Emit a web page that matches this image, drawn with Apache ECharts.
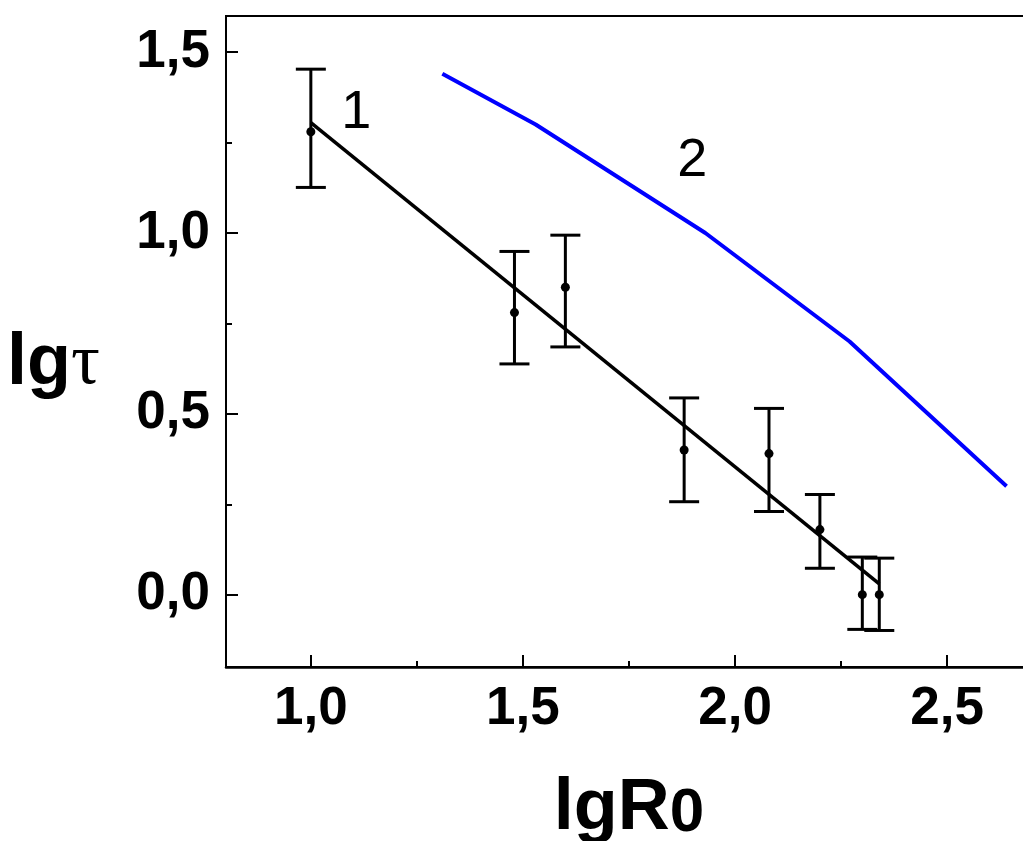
<!DOCTYPE html>
<html>
<head>
<meta charset="utf-8">
<title>lgτ vs lgR0</title>
<script src="https://cdn.jsdelivr.net/npm/echarts@6/dist/echarts.min.js"></script>
<style>
  html, body { margin: 0; padding: 0; background: #fff; }
  #chart { width: 1023px; height: 841px; }
</style>
</head>
<body>
<div id="chart"></div>
<script>
// Measured points (curve 1) with error bars
const lgR0 = [1.00, 1.48, 1.60, 1.88, 2.08, 2.20, 2.30, 2.34];
const lgTau = [1.28, 0.78, 0.85, 0.40, 0.39, 0.18, 0.00, 0.00];
const errHigh = [1.453, 0.949, 0.994, 0.544, 0.515, 0.277, 0.104, 0.101];
const errLow = [1.126, 0.638, 0.685, 0.257, 0.230, 0.073, -0.096, -0.099];

// Linear fit through curve 1
const fitX = [1.00, 2.34];
const fitY = [1.305, 0.03];

// Curve 2
const curve2X = [1.31, 1.53, 1.93, 2.27, 2.64];
const curve2Y = [1.44, 1.30, 1.00, 0.70, 0.30];

// Curve labels
const curveLabels = ['1', '2'];
const curveLabelX = [1.107, 1.899];
const curveLabelY = [1.332, 1.200];

// Axis ticks
const xTicks = [1.0, 1.5, 2.0, 2.5];
const xMinorTicks = [1.25, 1.75, 2.25, 2.75];
const yTicks = [0.0, 0.5, 1.0, 1.5];
const yMinorTicks = [0.25, 0.75, 1.25];

const fmt = v => Number(v).toFixed(1).replace('.', ',');
const sans = 'Liberation Sans, Arial, sans-serif';
const tickFont = { fontFamily: sans, fontWeight: 'bold', fontSize: 53, color: '#000' };

const chart = echarts.init(document.getElementById('chart'), null, { renderer: 'canvas' });

const errData = lgR0.map((x, i) => [x, errLow[i], errHigh[i]]);

chart.setOption({
  animation: false,
  backgroundColor: '#fff',
  grid: {
    left: 226, top: 16, right: -9, bottom: 174,
    outerBoundsMode: 'none',
    containLabel: false,
    show: true, borderColor: '#000', borderWidth: 2, backgroundColor: 'transparent'
  },
  xAxis: [
    {
      type: 'value', min: 0.8, max: 2.7, position: 'bottom',
      axisLine: { show: true, onZero: false, lineStyle: { color: '#000', width: 2.5 } },
      axisTick: { show: true, inside: true, length: 12, customValues: xTicks, lineStyle: { color: '#000', width: 2 } },
      axisLabel: { show: true, margin: 16, customValues: xTicks, formatter: fmt, ...tickFont },
      splitLine: { show: false },
      name: '{a|lgR}{b|0}',
      nameLocation: 'middle',
      nameGap: 98,
      nameTextStyle: {
        rich: {
          a: { fontFamily: sans, fontWeight: 'bold', fontSize: 72, lineHeight: 80, color: '#000', verticalAlign: 'bottom' },
          b: { fontFamily: sans, fontWeight: 'bold', fontSize: 62, lineHeight: 80, color: '#000', verticalAlign: 'bottom' }
        }
      }
    },
    {
      type: 'value', min: 0.8, max: 2.7, position: 'bottom',
      axisLine: { show: false, onZero: false },
      axisTick: { show: true, inside: true, length: 6, customValues: xMinorTicks, lineStyle: { color: '#000', width: 2 } },
      axisLabel: { show: false },
      splitLine: { show: false }
    }
  ],
  yAxis: [
    {
      type: 'value', min: -0.2, max: 1.6, position: 'left',
      axisLine: { show: true, onZero: false, lineStyle: { color: '#000', width: 2 } },
      axisTick: { show: true, inside: true, length: 12, customValues: yTicks, lineStyle: { color: '#000', width: 2 } },
      axisLabel: { show: true, margin: 16, customValues: yTicks, formatter: fmt, ...tickFont },
      splitLine: { show: false },
      name: '{a|lg}{b|τ}',
      nameLocation: 'middle',
      nameRotate: 0,
      nameGap: 126,
      nameTextStyle: {
        padding: [46, 0, 0, 0],
        rich: {
          a: { fontFamily: sans, fontWeight: 'bold', fontSize: 72, color: '#000' },
          b: { fontFamily: 'Liberation Serif, Times New Roman, serif', fontSize: 72, color: '#000' }
        }
      }
    },
    {
      type: 'value', min: -0.2, max: 1.6, position: 'left',
      axisLine: { show: false, onZero: false },
      axisTick: { show: true, inside: true, length: 6, customValues: yMinorTicks, lineStyle: { color: '#000', width: 2 } },
      axisLabel: { show: false },
      splitLine: { show: false }
    }
  ],
  series: [
    {
      name: 'curve 2',
      type: 'line',
      data: curve2X.map((x, i) => [x, curve2Y[i]]),
      showSymbol: false,
      lineStyle: { color: '#0000ff', width: 4 },
      z: 2
    },
    {
      name: 'fit',
      type: 'line',
      data: fitX.map((x, i) => [x, fitY[i]]),
      showSymbol: false,
      lineStyle: { color: '#000', width: 3.5 },
      z: 3
    },
    {
      name: 'error bars',
      type: 'custom',
      data: errData,
      renderItem: function (params, api) {
        const x = api.value(0);
        const lo = api.coord([x, api.value(1)]);
        const hi = api.coord([x, api.value(2)]);
        const half = 15;
        const style = { stroke: '#000', lineWidth: 3 };
        return {
          type: 'group',
          children: [
            { type: 'line', shape: { x1: lo[0], y1: lo[1], x2: hi[0], y2: hi[1] }, style },
            { type: 'line', shape: { x1: hi[0] - half, y1: hi[1], x2: hi[0] + half, y2: hi[1] }, style },
            { type: 'line', shape: { x1: lo[0] - half, y1: lo[1], x2: lo[0] + half, y2: lo[1] }, style }
          ]
        };
      },
      z: 4
    },
    {
      name: 'curve 1',
      type: 'scatter',
      data: lgR0.map((x, i) => [x, lgTau[i]]),
      symbol: 'circle',
      symbolSize: 9,
      itemStyle: { color: '#000', opacity: 1 },
      z: 5
    },
    {
      name: 'curve labels',
      type: 'custom',
      data: curveLabels.map((t, i) => [curveLabelX[i], curveLabelY[i], t]),
      silent: true,
      renderItem: function (params, api) {
        const p = api.coord([api.value(0), api.value(1)]);
        return {
          type: 'text',
          x: p[0], y: p[1],
          style: {
            text: curveLabels[params.dataIndex],
            font: 'normal 54px ' + sans,
            fill: '#000',
            align: 'center',
            verticalAlign: 'middle'
          }
        };
      },
      z: 6
    }
  ]
});
</script>
</body>
</html>
